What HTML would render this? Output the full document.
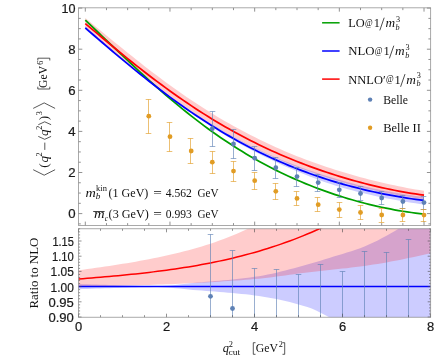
<!DOCTYPE html>
<html><head><meta charset="utf-8"><title>plot</title>
<style>html,body{margin:0;padding:0;background:#fff;}svg{display:block;will-change:transform;}</style></head>
<body>
<svg width="435" height="359" viewBox="0 0 435 359">
<rect width="435" height="359" fill="#fff"/>
<defs><clipPath id="ct"><rect x="78.5" y="7.85" width="352.2" height="217.55"/></clipPath><clipPath id="cb"><rect x="78.5" y="228.8" width="352.2" height="88.39999999999998"/></clipPath></defs>
<g clip-path="url(#ct)">
<path d="M85.30,26.36 L89.53,30.14 L93.77,33.90 L98.00,37.65 L102.24,41.39 L106.47,45.10 L110.70,48.80 L114.94,52.46 L119.17,56.10 L123.41,59.72 L127.64,63.30 L131.87,66.86 L136.11,70.38 L140.34,73.87 L144.58,77.32 L148.81,80.72 L153.04,84.07 L157.28,87.37 L161.51,90.61 L165.75,93.76 L169.98,96.81 L174.21,99.77 L178.45,102.66 L182.68,105.50 L186.92,108.31 L191.15,111.09 L195.38,113.85 L199.62,116.57 L203.85,119.26 L208.09,121.90 L212.32,124.50 L216.55,127.05 L220.79,129.56 L225.02,132.02 L229.26,134.43 L233.49,136.79 L237.72,139.09 L241.96,141.35 L246.19,143.55 L250.43,145.70 L254.66,147.80 L258.89,149.84 L263.13,151.81 L267.36,153.73 L271.60,155.60 L275.83,157.41 L280.06,159.18 L284.30,160.90 L288.53,162.58 L292.77,164.22 L297.00,165.82 L301.23,167.39 L305.47,168.92 L309.70,170.41 L313.94,171.86 L318.17,173.27 L322.40,174.64 L326.64,175.98 L330.87,177.29 L335.11,178.57 L339.34,179.82 L343.57,181.03 L347.81,182.20 L352.04,183.34 L356.28,184.44 L360.51,185.49 L364.74,186.51 L368.98,187.48 L373.21,188.41 L377.45,189.31 L381.68,190.17 L385.91,191.00 L390.15,191.80 L394.38,192.58 L398.62,193.32 L402.85,194.03 L407.08,194.71 L411.32,195.35 L415.55,195.96 L419.79,196.54 L424.02,197.09 L424.02,204.43 L419.79,203.88 L415.55,203.29 L411.32,202.67 L407.08,202.02 L402.85,201.34 L398.62,200.62 L394.38,199.86 L390.15,199.07 L385.91,198.24 L381.68,197.38 L377.45,196.48 L373.21,195.54 L368.98,194.56 L364.74,193.55 L360.51,192.50 L356.28,191.41 L352.04,190.29 L347.81,189.14 L343.57,187.95 L339.34,186.72 L335.11,185.43 L330.87,184.09 L326.64,182.69 L322.40,181.20 L318.17,179.63 L313.94,178.01 L309.70,176.38 L305.47,174.74 L301.23,173.07 L297.00,171.36 L292.77,169.59 L288.53,167.78 L284.30,165.93 L280.06,164.03 L275.83,162.08 L271.60,160.09 L267.36,158.06 L263.13,155.98 L258.89,153.85 L254.66,151.69 L250.43,149.47 L246.19,147.21 L241.96,144.90 L237.72,142.54 L233.49,140.13 L229.26,137.67 L225.02,135.16 L220.79,132.60 L216.55,129.99 L212.32,127.32 L208.09,124.59 L203.85,121.82 L199.62,118.98 L195.38,116.08 L191.15,113.13 L186.92,110.09 L182.68,106.99 L178.45,103.84 L174.21,100.64 L169.98,97.42 L165.75,94.19 L161.51,90.98 L157.28,87.76 L153.04,84.52 L148.81,81.26 L144.58,77.96 L140.34,74.65 L136.11,71.30 L131.87,67.93 L127.64,64.53 L123.41,61.10 L119.17,57.64 L114.94,54.16 L110.70,50.67 L106.47,47.17 L102.24,43.66 L98.00,40.13 L93.77,36.61 L89.53,33.08 L85.30,29.56Z" fill="#0000ff" fill-opacity="0.2"/>
<path d="M85.30,18.03 L89.53,21.50 L93.77,24.98 L98.00,28.47 L102.24,31.97 L106.47,35.46 L110.70,38.94 L114.94,42.41 L119.17,45.87 L123.41,49.30 L127.64,52.72 L131.87,56.11 L136.11,59.48 L140.34,62.82 L144.58,66.13 L148.81,69.40 L153.04,72.64 L157.28,75.85 L161.51,79.01 L165.75,82.14 L169.98,85.22 L174.21,88.27 L178.45,91.27 L182.68,94.23 L186.92,97.15 L191.15,100.01 L195.38,102.83 L199.62,105.60 L203.85,108.32 L208.09,110.99 L212.32,113.62 L216.55,116.17 L220.79,118.68 L225.02,121.15 L229.26,123.56 L233.49,125.93 L237.72,128.25 L241.96,130.53 L246.19,132.76 L250.43,134.94 L254.66,137.08 L258.89,139.17 L263.13,141.23 L267.36,143.25 L271.60,145.23 L275.83,147.17 L280.06,149.06 L284.30,150.91 L288.53,152.72 L292.77,154.48 L297.00,156.19 L301.23,157.86 L305.47,159.49 L309.70,161.07 L313.94,162.61 L318.17,164.10 L322.40,165.56 L326.64,166.98 L330.87,168.37 L335.11,169.72 L339.34,171.03 L343.57,172.32 L347.81,173.57 L352.04,174.79 L356.28,175.98 L360.51,177.15 L364.74,178.28 L368.98,179.38 L373.21,180.45 L377.45,181.50 L381.68,182.51 L385.91,183.49 L390.15,184.43 L394.38,185.35 L398.62,186.23 L402.85,187.08 L407.08,187.89 L411.32,188.67 L415.55,189.40 L419.79,190.10 L424.02,190.76 L424.02,199.05 L419.79,198.49 L415.55,197.90 L411.32,197.27 L407.08,196.61 L402.85,195.92 L398.62,195.19 L394.38,194.42 L390.15,193.63 L385.91,192.80 L381.68,191.93 L377.45,191.04 L373.21,190.10 L368.98,189.13 L364.74,188.13 L360.51,187.08 L356.28,186.00 L352.04,184.88 L347.81,183.73 L343.57,182.53 L339.34,181.29 L335.11,180.02 L330.87,178.70 L326.64,177.35 L322.40,175.95 L318.17,174.52 L313.94,173.05 L309.70,171.55 L305.47,170.00 L301.23,168.42 L297.00,166.80 L292.77,165.15 L288.53,163.45 L284.30,161.72 L280.06,159.94 L275.83,158.12 L271.60,156.25 L267.36,154.33 L263.13,152.36 L258.89,150.34 L254.66,148.26 L250.43,146.13 L246.19,143.95 L241.96,141.72 L237.72,139.44 L233.49,137.11 L229.26,134.73 L225.02,132.30 L220.79,129.82 L216.55,127.28 L212.32,124.70 L208.09,122.07 L203.85,119.39 L199.62,116.66 L195.38,113.89 L191.15,111.06 L186.92,108.19 L182.68,105.28 L178.45,102.31 L174.21,99.30 L169.98,96.25 L165.75,93.14 L161.51,89.99 L157.28,86.80 L153.04,83.57 L148.81,80.30 L144.58,76.99 L140.34,73.64 L136.11,70.26 L131.87,66.84 L127.64,63.40 L123.41,59.92 L119.17,56.42 L114.94,52.90 L110.70,49.35 L106.47,45.79 L102.24,42.21 L98.00,38.62 L93.77,35.01 L89.53,31.40 L85.30,27.78Z" fill="#ff0000" fill-opacity="0.2"/>
<path d="M85.30,20.20 L89.53,24.19 L93.77,28.21 L98.00,32.25 L102.24,36.29 L106.47,40.34 L110.70,44.39 L114.94,48.43 L119.17,52.46 L123.41,56.48 L127.64,60.47 L131.87,64.45 L136.11,68.39 L140.34,72.31 L144.58,76.19 L148.81,80.03 L153.04,83.83 L157.28,87.59 L161.51,91.31 L165.75,94.98 L169.98,98.60 L174.21,102.17 L178.45,105.68 L182.68,109.14 L186.92,112.55 L191.15,115.89 L195.38,119.18 L199.62,122.41 L203.85,125.58 L208.09,128.69 L212.32,131.74 L216.55,134.73 L220.79,137.66 L225.02,140.52 L229.26,143.32 L233.49,146.06 L237.72,148.74 L241.96,151.36 L246.19,153.91 L250.43,156.41 L254.66,158.84 L258.89,161.22 L263.13,163.53 L267.36,165.79 L271.60,167.99 L275.83,170.13 L280.06,172.22 L284.30,174.25 L288.53,176.22 L292.77,178.14 L297.00,180.01 L301.23,181.82 L305.47,183.59 L309.70,185.30 L313.94,186.96 L318.17,188.57 L322.40,190.14 L326.64,191.65 L330.87,193.12 L335.11,194.55 L339.34,195.92 L343.57,197.26 L347.81,198.54 L352.04,199.78 L356.28,200.98 L360.51,202.14 L364.74,203.25 L368.98,204.31 L373.21,205.33 L377.45,206.31 L381.68,207.25 L385.91,208.14 L390.15,208.98 L394.38,209.78 L398.62,210.53 L402.85,211.24 L407.08,211.90 L411.32,212.50 L415.55,213.06 L419.79,213.56 L424.02,214.01" fill="none" stroke="#00a000" stroke-width="1.75"/>
<path d="M85.30,27.96 L89.53,31.61 L93.77,35.26 L98.00,38.89 L102.24,42.52 L106.47,46.14 L110.70,49.73 L114.94,53.31 L119.17,56.87 L123.41,60.41 L127.64,63.91 L131.87,67.39 L136.11,70.84 L140.34,74.26 L144.58,77.64 L148.81,80.99 L153.04,84.30 L157.28,87.56 L161.51,90.79 L165.75,93.98 L169.98,97.12 L174.21,100.22 L178.45,103.27 L182.68,106.28 L186.92,109.24 L191.15,112.15 L195.38,115.02 L199.62,117.83 L203.85,120.60 L208.09,123.31 L212.32,125.98 L216.55,128.59 L220.79,131.16 L225.02,133.67 L229.26,136.13 L233.49,138.54 L237.72,140.90 L241.96,143.21 L246.19,145.47 L250.43,147.68 L254.66,149.84 L258.89,151.94 L263.13,154.00 L267.36,156.01 L271.60,157.97 L275.83,159.88 L280.06,161.75 L284.30,163.56 L288.53,165.33 L292.77,167.05 L297.00,168.73 L301.23,170.36 L305.47,171.94 L309.70,173.49 L313.94,174.99 L318.17,176.44 L322.40,177.85 L326.64,179.23 L330.87,180.56 L335.11,181.85 L339.34,183.10 L343.57,184.31 L347.81,185.48 L352.04,186.61 L356.28,187.71 L360.51,188.77 L364.74,189.79 L368.98,190.78 L373.21,191.73 L377.45,192.65 L381.68,193.53 L385.91,194.38 L390.15,195.19 L394.38,195.97 L398.62,196.72 L402.85,197.43 L407.08,198.11 L411.32,198.76 L415.55,199.37 L419.79,199.95 L424.02,200.49" fill="none" stroke="#0000ff" stroke-width="1.75"/>
<path d="M85.30,23.55 L89.53,27.10 L93.77,30.65 L98.00,34.19 L102.24,37.73 L106.47,41.25 L110.70,44.76 L114.94,48.24 L119.17,51.71 L123.41,55.16 L127.64,58.58 L131.87,61.97 L136.11,65.34 L140.34,68.67 L144.58,71.97 L148.81,75.23 L153.04,78.45 L157.28,81.64 L161.51,84.79 L165.75,87.90 L169.98,90.96 L174.21,93.98 L178.45,96.96 L182.68,99.90 L186.92,102.78 L191.15,105.63 L195.38,108.42 L199.62,111.17 L203.85,113.87 L208.09,116.53 L212.32,119.13 L216.55,121.69 L220.79,124.20 L225.02,126.67 L229.26,129.08 L233.49,131.45 L237.72,133.77 L241.96,136.04 L246.19,138.27 L250.43,140.45 L254.66,142.58 L258.89,144.67 L263.13,146.71 L267.36,148.71 L271.60,150.67 L275.83,152.57 L280.06,154.44 L284.30,156.26 L288.53,158.05 L292.77,159.79 L297.00,161.48 L301.23,163.14 L305.47,164.76 L309.70,166.34 L313.94,167.88 L318.17,169.38 L322.40,170.84 L326.64,172.27 L330.87,173.66 L335.11,175.01 L339.34,176.33 L343.57,177.61 L347.81,178.85 L352.04,180.06 L356.28,181.24 L360.51,182.38 L364.74,183.48 L368.98,184.55 L373.21,185.59 L377.45,186.59 L381.68,187.55 L385.91,188.48 L390.15,189.38 L394.38,190.24 L398.62,191.06 L402.85,191.84 L407.08,192.59 L411.32,193.30 L415.55,193.97 L419.79,194.60 L424.02,195.19" fill="none" stroke="#ff0000" stroke-width="1.75"/>
<path d="M212.5,111.5V146.5M209.7,111.5h5.6M209.7,146.5h5.6" stroke="#5e81b5" stroke-opacity="0.8" stroke-width="0.8" fill="none"/>
<circle cx="212.3" cy="128.7" r="2.4" fill="#5e81b5"/>
<path d="M233.5,129.5V158.5M230.7,129.5h5.6M230.7,158.5h5.6" stroke="#5e81b5" stroke-opacity="0.8" stroke-width="0.8" fill="none"/>
<circle cx="233.5" cy="144.0" r="2.4" fill="#5e81b5"/>
<path d="M254.5,146.5V170.5M251.7,146.5h5.6M251.7,170.5h5.6" stroke="#5e81b5" stroke-opacity="0.8" stroke-width="0.8" fill="none"/>
<circle cx="254.7" cy="158.2" r="2.4" fill="#5e81b5"/>
<path d="M275.5,157.5V178.5M272.7,157.5h5.6M272.7,178.5h5.6" stroke="#5e81b5" stroke-opacity="0.8" stroke-width="0.8" fill="none"/>
<circle cx="275.8" cy="167.7" r="2.4" fill="#5e81b5"/>
<path d="M296.5,167.5V186.5M293.7,167.5h5.6M293.7,186.5h5.6" stroke="#5e81b5" stroke-opacity="0.8" stroke-width="0.8" fill="none"/>
<circle cx="297.0" cy="176.6" r="2.4" fill="#5e81b5"/>
<path d="M317.5,174.5V191.5M314.7,174.5h5.6M314.7,191.5h5.6" stroke="#5e81b5" stroke-opacity="0.8" stroke-width="0.8" fill="none"/>
<circle cx="318.2" cy="182.6" r="2.4" fill="#5e81b5"/>
<path d="M339.5,182.5V197.5M336.7,182.5h5.6M336.7,197.5h5.6" stroke="#5e81b5" stroke-opacity="0.8" stroke-width="0.8" fill="none"/>
<circle cx="339.3" cy="189.8" r="2.4" fill="#5e81b5"/>
<path d="M360.5,186.5V200.5M357.7,186.5h5.6M357.7,200.5h5.6" stroke="#5e81b5" stroke-opacity="0.8" stroke-width="0.8" fill="none"/>
<circle cx="360.5" cy="193.5" r="2.4" fill="#5e81b5"/>
<path d="M381.5,191.5V204.5M378.7,191.5h5.6M378.7,204.5h5.6" stroke="#5e81b5" stroke-opacity="0.8" stroke-width="0.8" fill="none"/>
<circle cx="381.7" cy="198.0" r="2.4" fill="#5e81b5"/>
<path d="M402.5,195.5V208.5M399.7,195.5h5.6M399.7,208.5h5.6" stroke="#5e81b5" stroke-opacity="0.8" stroke-width="0.8" fill="none"/>
<circle cx="402.9" cy="201.5" r="2.4" fill="#5e81b5"/>
<path d="M423.5,196.5V209.5M420.7,196.5h5.6M420.7,209.5h5.6" stroke="#5e81b5" stroke-opacity="0.8" stroke-width="0.8" fill="none"/>
<circle cx="424.0" cy="202.6" r="2.4" fill="#5e81b5"/>
<path d="M148.5,99.5V133.5M145.7,99.5h5.6M145.7,133.5h5.6" stroke="#e19c24" stroke-opacity="0.8" stroke-width="0.8" fill="none"/>
<circle cx="148.8" cy="116.2" r="2.4" fill="#e19c24"/>
<path d="M169.5,122.5V151.5M166.7,122.5h5.6M166.7,151.5h5.6" stroke="#e19c24" stroke-opacity="0.8" stroke-width="0.8" fill="none"/>
<circle cx="170.0" cy="136.7" r="2.4" fill="#e19c24"/>
<path d="M190.5,138.5V163.5M187.7,138.5h5.6M187.7,163.5h5.6" stroke="#e19c24" stroke-opacity="0.8" stroke-width="0.8" fill="none"/>
<circle cx="191.2" cy="151.0" r="2.4" fill="#e19c24"/>
<path d="M212.5,151.5V173.5M209.7,151.5h5.6M209.7,173.5h5.6" stroke="#e19c24" stroke-opacity="0.8" stroke-width="0.8" fill="none"/>
<circle cx="212.3" cy="162.2" r="2.4" fill="#e19c24"/>
<path d="M233.5,161.5V181.5M230.7,161.5h5.6M230.7,181.5h5.6" stroke="#e19c24" stroke-opacity="0.8" stroke-width="0.8" fill="none"/>
<circle cx="233.5" cy="171.1" r="2.4" fill="#e19c24"/>
<path d="M254.5,172.5V189.5M251.7,172.5h5.6M251.7,189.5h5.6" stroke="#e19c24" stroke-opacity="0.8" stroke-width="0.8" fill="none"/>
<circle cx="254.7" cy="180.7" r="2.4" fill="#e19c24"/>
<path d="M275.5,183.5V199.5M272.7,183.5h5.6M272.7,199.5h5.6" stroke="#e19c24" stroke-opacity="0.8" stroke-width="0.8" fill="none"/>
<circle cx="275.8" cy="191.3" r="2.4" fill="#e19c24"/>
<path d="M296.5,191.5V205.5M293.7,191.5h5.6M293.7,205.5h5.6" stroke="#e19c24" stroke-opacity="0.8" stroke-width="0.8" fill="none"/>
<circle cx="297.0" cy="198.4" r="2.4" fill="#e19c24"/>
<path d="M317.5,197.5V211.5M314.7,197.5h5.6M314.7,211.5h5.6" stroke="#e19c24" stroke-opacity="0.8" stroke-width="0.8" fill="none"/>
<circle cx="318.2" cy="204.7" r="2.4" fill="#e19c24"/>
<path d="M339.5,202.5V217.5M336.7,202.5h5.6M336.7,217.5h5.6" stroke="#e19c24" stroke-opacity="0.8" stroke-width="0.8" fill="none"/>
<circle cx="339.3" cy="209.6" r="2.4" fill="#e19c24"/>
<path d="M360.5,205.5V219.5M357.7,205.5h5.6M357.7,219.5h5.6" stroke="#e19c24" stroke-opacity="0.8" stroke-width="0.8" fill="none"/>
<circle cx="360.5" cy="212.5" r="2.4" fill="#e19c24"/>
<path d="M381.5,208.5V222.5M378.7,208.5h5.6M378.7,222.5h5.6" stroke="#e19c24" stroke-opacity="0.8" stroke-width="0.8" fill="none"/>
<circle cx="381.7" cy="215.0" r="2.4" fill="#e19c24"/>
<path d="M402.5,208.5V221.5M399.7,208.5h5.6M399.7,221.5h5.6" stroke="#e19c24" stroke-opacity="0.8" stroke-width="0.8" fill="none"/>
<circle cx="402.9" cy="215.0" r="2.4" fill="#e19c24"/>
<path d="M423.5,209.5V221.5M420.7,209.5h5.6M420.7,221.5h5.6" stroke="#e19c24" stroke-opacity="0.8" stroke-width="0.8" fill="none"/>
<circle cx="424.0" cy="215.1" r="2.4" fill="#e19c24"/>
</g>
<g clip-path="url(#cb)">
<path d="M78.50,283.99 L82.90,284.14 L87.30,284.29 L91.70,284.44 L96.10,284.58 L100.50,284.72 L104.90,284.86 L109.30,284.99 L113.70,285.11 L118.10,285.23 L122.50,285.36 L126.90,285.49 L131.30,285.62 L135.70,285.76 L140.10,285.88 L144.50,285.99 L148.90,286.07 L153.30,286.12 L157.70,286.14 L162.10,286.05 L166.50,285.78 L170.90,285.39 L175.30,284.91 L179.70,284.40 L184.10,283.88 L188.50,283.40 L192.90,282.99 L197.30,282.60 L201.70,282.21 L206.10,281.84 L210.50,281.47 L214.90,281.09 L219.30,280.71 L223.70,280.32 L228.10,279.91 L232.50,279.48 L236.90,279.02 L241.30,278.54 L245.70,278.02 L250.10,277.47 L254.50,276.87 L258.90,276.20 L263.30,275.43 L267.70,274.57 L272.10,273.64 L276.50,272.63 L280.90,271.57 L285.30,270.46 L289.70,269.31 L294.10,268.13 L298.50,266.93 L302.90,265.73 L307.30,264.52 L311.70,263.31 L316.10,262.02 L320.50,260.67 L324.90,259.28 L329.30,257.89 L333.70,256.54 L338.10,255.22 L342.50,253.90 L346.90,252.57 L351.30,251.18 L355.70,249.72 L360.10,248.16 L364.50,246.47 L368.90,244.61 L373.30,242.58 L377.70,240.39 L382.10,238.08 L386.50,235.66 L390.90,233.17 L395.30,230.63 L399.70,228.06 L404.10,225.41 L408.50,222.66 L412.90,219.81 L417.30,216.87 L421.70,213.85 L426.10,210.74 L430.50,207.56 L430.50,377.80 L426.10,374.05 L421.70,370.41 L417.30,366.86 L412.90,363.41 L408.50,360.06 L404.10,356.82 L399.70,353.67 L395.30,350.63 L390.90,347.68 L386.50,344.84 L382.10,342.11 L377.70,339.47 L373.30,336.94 L368.90,334.52 L364.50,332.20 L360.10,330.04 L355.70,328.05 L351.30,326.19 L346.90,324.42 L342.50,322.68 L338.10,320.93 L333.70,319.12 L329.30,317.20 L324.90,315.05 L320.50,312.72 L316.10,310.45 L311.70,308.51 L307.30,307.03 L302.90,305.68 L298.50,304.40 L294.10,303.19 L289.70,302.06 L285.30,300.99 L280.90,299.99 L276.50,299.07 L272.10,298.21 L267.70,297.41 L263.30,296.68 L258.90,296.02 L254.50,295.42 L250.10,294.87 L245.70,294.36 L241.30,293.89 L236.90,293.45 L232.50,293.04 L228.10,292.65 L223.70,292.28 L219.30,291.93 L214.90,291.58 L210.50,291.25 L206.10,290.91 L201.70,290.58 L197.30,290.23 L192.90,289.88 L188.50,289.51 L184.10,289.08 L179.70,288.62 L175.30,288.16 L170.90,287.73 L166.50,287.38 L162.10,287.14 L157.70,287.06 L153.30,287.08 L148.90,287.13 L144.50,287.21 L140.10,287.32 L135.70,287.44 L131.30,287.58 L126.90,287.71 L122.50,287.84 L118.10,287.97 L113.70,288.09 L109.30,288.21 L104.90,288.34 L100.50,288.48 L96.10,288.62 L91.70,288.76 L87.30,288.91 L82.90,289.06 L78.50,289.21Z" fill="#0000ff" fill-opacity="0.2"/>
<path d="M78.50,270.33 L82.90,269.71 L87.30,269.09 L91.70,268.47 L96.10,267.85 L100.50,267.21 L104.90,266.57 L109.30,265.92 L113.70,265.25 L118.10,264.57 L122.50,263.87 L126.90,263.15 L131.30,262.41 L135.70,261.65 L140.10,260.86 L144.50,260.05 L148.90,259.21 L153.30,258.34 L157.70,257.44 L162.10,256.51 L166.50,255.55 L170.90,254.56 L175.30,253.53 L179.70,252.47 L184.10,251.37 L188.50,250.22 L192.90,249.02 L197.30,247.77 L201.70,246.47 L206.10,245.11 L210.50,243.70 L214.90,242.18 L219.30,240.60 L223.70,238.97 L228.10,237.27 L232.50,235.51 L236.90,233.69 L241.30,231.81 L245.70,229.86 L250.10,227.85 L254.50,225.76 L258.90,223.63 L263.30,221.46 L267.70,219.25 L272.10,216.99 L276.50,214.66 L280.90,212.25 L285.30,209.76 L289.70,207.17 L294.10,204.49 L298.50,201.68 L302.90,198.76 L307.30,195.69 L311.70,192.49 L316.10,189.15 L320.50,185.67 L324.90,182.05 L329.30,178.32 L333.70,174.45 L338.10,170.47 L342.50,166.37 L346.90,162.16 L351.30,157.83 L355.70,153.41 L360.10,148.88 L364.50,144.26 L368.90,139.54 L373.30,134.71 L377.70,129.77 L382.10,124.72 L386.50,119.56 L390.90,114.27 L395.30,108.87 L399.70,103.35 L404.10,97.69 L408.50,91.91 L412.90,85.99 L417.30,79.94 L421.70,73.75 L426.10,67.42 L430.50,60.94 L430.50,253.16 L426.10,254.19 L421.70,255.21 L417.30,256.19 L412.90,257.16 L408.50,258.10 L404.10,259.01 L399.70,259.90 L395.30,260.76 L390.90,261.59 L386.50,262.39 L382.10,263.17 L377.70,263.91 L373.30,264.61 L368.90,265.29 L364.50,265.93 L360.10,266.53 L355.70,267.09 L351.30,267.62 L346.90,268.13 L342.50,268.61 L338.10,269.07 L333.70,269.53 L329.30,269.99 L324.90,270.44 L320.50,270.91 L316.10,271.39 L311.70,271.89 L307.30,272.42 L302.90,272.98 L298.50,273.57 L294.10,274.17 L289.70,274.78 L285.30,275.40 L280.90,276.01 L276.50,276.60 L272.10,277.17 L267.70,277.72 L263.30,278.22 L258.90,278.68 L254.50,279.09 L250.10,279.46 L245.70,279.82 L241.30,280.15 L236.90,280.48 L232.50,280.79 L228.10,281.09 L223.70,281.37 L219.30,281.65 L214.90,281.91 L210.50,282.17 L206.10,282.41 L201.70,282.65 L197.30,282.88 L192.90,283.11 L188.50,283.33 L184.10,283.54 L179.70,283.75 L175.30,283.95 L170.90,284.14 L166.50,284.31 L162.10,284.48 L157.70,284.62 L153.30,284.76 L148.90,284.89 L144.50,285.02 L140.10,285.14 L135.70,285.25 L131.30,285.35 L126.90,285.46 L122.50,285.55 L118.10,285.64 L113.70,285.73 L109.30,285.82 L104.90,285.90 L100.50,285.97 L96.10,286.05 L91.70,286.12 L87.30,286.18 L82.90,286.24 L78.50,286.30Z" fill="#ff0000" fill-opacity="0.2"/>
<path d="M78.5,286.60H430.7" stroke="#0000ff" stroke-width="1.5"/>
<path d="M78.50,279.07 L82.90,278.71 L87.30,278.35 L91.70,277.98 L96.10,277.60 L100.50,277.23 L104.90,276.84 L109.30,276.45 L113.70,276.05 L118.10,275.64 L122.50,275.22 L126.90,274.78 L131.30,274.34 L135.70,273.88 L140.10,273.40 L144.50,272.91 L148.90,272.40 L153.30,271.88 L157.70,271.33 L162.10,270.77 L166.50,270.18 L170.90,269.58 L175.30,268.94 L179.70,268.29 L184.10,267.61 L188.50,266.90 L192.90,266.17 L197.30,265.40 L201.70,264.61 L206.10,263.79 L210.50,262.93 L214.90,262.05 L219.30,261.13 L223.70,260.17 L228.10,259.18 L232.50,258.15 L236.90,257.09 L241.30,255.98 L245.70,254.84 L250.10,253.65 L254.50,252.43 L258.90,251.16 L263.30,249.84 L267.70,248.48 L272.10,247.08 L276.50,245.63 L280.90,244.13 L285.30,242.58 L289.70,240.98 L294.10,239.33 L298.50,237.62 L302.90,235.87 L307.30,234.06 L311.70,232.19 L316.10,230.27 L320.50,228.29 L324.90,226.25 L329.30,224.15 L333.70,221.99 L338.10,219.77 L342.50,217.49 L346.90,215.14 L351.30,212.73 L355.70,210.25 L360.10,207.71 L364.50,205.09 L368.90,202.41 L373.30,199.66 L377.70,196.84 L382.10,193.94 L386.50,190.98 L390.90,187.93 L395.30,184.82 L399.70,181.62 L404.10,178.35 L408.50,175.00 L412.90,171.58 L417.30,168.07 L421.70,164.48 L426.10,160.81 L430.50,157.05" fill="none" stroke="#ff0000" stroke-width="1.5"/>
<path d="M210.5,234.5V322.2M207.7,234.5h5.6" stroke="#5e81b5" stroke-opacity="0.8" stroke-width="0.8" fill="none"/>
<circle cx="210.5" cy="296.3" r="2.4" fill="#5e81b5"/>
<path d="M232.5,250.5V322.2M229.7,250.5h5.6" stroke="#5e81b5" stroke-opacity="0.8" stroke-width="0.8" fill="none"/>
<circle cx="232.5" cy="308.5" r="2.4" fill="#5e81b5"/>
<path d="M254.5,268.5V322.2M251.7,268.5h5.6" stroke="#5e81b5" stroke-opacity="0.8" stroke-width="0.8" fill="none"/>
<path d="M276.5,269.5V322.2M273.7,269.5h5.6" stroke="#5e81b5" stroke-opacity="0.8" stroke-width="0.8" fill="none"/>
<path d="M298.5,274.5V322.2M295.7,274.5h5.6" stroke="#5e81b5" stroke-opacity="0.8" stroke-width="0.8" fill="none"/>
<path d="M320.5,264.5V322.2M317.7,264.5h5.6" stroke="#5e81b5" stroke-opacity="0.8" stroke-width="0.8" fill="none"/>
<path d="M342.5,271.5V322.2M339.7,271.5h5.6" stroke="#5e81b5" stroke-opacity="0.8" stroke-width="0.8" fill="none"/>
<path d="M364.5,251.5V322.2M361.7,251.5h5.6" stroke="#5e81b5" stroke-opacity="0.8" stroke-width="0.8" fill="none"/>
<path d="M386.5,252.5V322.2M383.7,252.5h5.6" stroke="#5e81b5" stroke-opacity="0.8" stroke-width="0.8" fill="none"/>
<path d="M408.5,239.5V322.2M405.7,239.5h5.6" stroke="#5e81b5" stroke-opacity="0.8" stroke-width="0.8" fill="none"/>
</g>
<path d="M85.30,225.4v-3.8M85.30,7.85v3.8M106.47,225.4v-2.3M106.47,7.85v2.3M127.64,225.4v-2.3M127.64,7.85v2.3M148.81,225.4v-2.3M148.81,7.85v2.3M169.98,225.4v-3.8M169.98,7.85v3.8M191.15,225.4v-2.3M191.15,7.85v2.3M212.32,225.4v-2.3M212.32,7.85v2.3M233.49,225.4v-2.3M233.49,7.85v2.3M254.66,225.4v-3.8M254.66,7.85v3.8M275.83,225.4v-2.3M275.83,7.85v2.3M297.00,225.4v-2.3M297.00,7.85v2.3M318.17,225.4v-2.3M318.17,7.85v2.3M339.34,225.4v-3.8M339.34,7.85v3.8M360.51,225.4v-2.3M360.51,7.85v2.3M381.68,225.4v-2.3M381.68,7.85v2.3M402.85,225.4v-2.3M402.85,7.85v2.3M424.02,225.4v-3.8M424.02,7.85v3.8M78.5,223.88h2.3M430.7,223.88h-2.3M78.5,213.60h3.8M430.7,213.60h-3.8M78.5,203.32h2.3M430.7,203.32h-2.3M78.5,193.05h2.3M430.7,193.05h-2.3M78.5,182.77h2.3M430.7,182.77h-2.3M78.5,172.50h3.8M430.7,172.50h-3.8M78.5,162.22h2.3M430.7,162.22h-2.3M78.5,151.95h2.3M430.7,151.95h-2.3M78.5,141.68h2.3M430.7,141.68h-2.3M78.5,131.40h3.8M430.7,131.40h-3.8M78.5,121.12h2.3M430.7,121.12h-2.3M78.5,110.85h2.3M430.7,110.85h-2.3M78.5,100.57h2.3M430.7,100.57h-2.3M78.5,90.30h3.8M430.7,90.30h-3.8M78.5,80.02h2.3M430.7,80.02h-2.3M78.5,69.75h2.3M430.7,69.75h-2.3M78.5,59.47h2.3M430.7,59.47h-2.3M78.5,49.20h3.8M430.7,49.20h-3.8M78.5,38.92h2.3M430.7,38.92h-2.3M78.5,28.65h2.3M430.7,28.65h-2.3M78.5,18.38h2.3M430.7,18.38h-2.3M78.5,8.10h3.8M430.7,8.10h-3.8" stroke="#484848" stroke-width="0.6" fill="none"/>
<rect x="78.5" y="7.85" width="352.2" height="217.55" fill="none" stroke="#858585" stroke-width="0.7"/>
<path d="M78.50,317.2v-3.5M78.50,228.8v3.5M100.50,317.2v-2.0M100.50,228.8v2.0M122.50,317.2v-2.0M122.50,228.8v2.0M144.50,317.2v-2.0M144.50,228.8v2.0M166.50,317.2v-3.5M166.50,228.8v3.5M188.50,317.2v-2.0M188.50,228.8v2.0M210.50,317.2v-2.0M210.50,228.8v2.0M232.50,317.2v-2.0M232.50,228.8v2.0M254.50,317.2v-3.5M254.50,228.8v3.5M276.50,317.2v-2.0M276.50,228.8v2.0M298.50,317.2v-2.0M298.50,228.8v2.0M320.50,317.2v-2.0M320.50,228.8v2.0M342.50,317.2v-3.5M342.50,228.8v3.5M364.50,317.2v-2.0M364.50,228.8v2.0M386.50,317.2v-2.0M386.50,228.8v2.0M408.50,317.2v-2.0M408.50,228.8v2.0M430.50,317.2v-3.5M430.50,228.8v3.5M78.5,317.00h3.0M430.7,317.00h-3.0M78.5,313.96h1.6M430.7,313.96h-1.6M78.5,310.92h1.6M430.7,310.92h-1.6M78.5,307.88h1.6M430.7,307.88h-1.6M78.5,304.84h1.6M430.7,304.84h-1.6M78.5,301.80h3.0M430.7,301.80h-3.0M78.5,298.76h1.6M430.7,298.76h-1.6M78.5,295.72h1.6M430.7,295.72h-1.6M78.5,292.68h1.6M430.7,292.68h-1.6M78.5,289.64h1.6M430.7,289.64h-1.6M78.5,286.60h3.0M430.7,286.60h-3.0M78.5,283.56h1.6M430.7,283.56h-1.6M78.5,280.52h1.6M430.7,280.52h-1.6M78.5,277.48h1.6M430.7,277.48h-1.6M78.5,274.44h1.6M430.7,274.44h-1.6M78.5,271.40h3.0M430.7,271.40h-3.0M78.5,268.36h1.6M430.7,268.36h-1.6M78.5,265.32h1.6M430.7,265.32h-1.6M78.5,262.28h1.6M430.7,262.28h-1.6M78.5,259.24h1.6M430.7,259.24h-1.6M78.5,256.20h3.0M430.7,256.20h-3.0M78.5,253.16h1.6M430.7,253.16h-1.6M78.5,250.12h1.6M430.7,250.12h-1.6M78.5,247.08h1.6M430.7,247.08h-1.6M78.5,244.04h1.6M430.7,244.04h-1.6M78.5,241.00h3.0M430.7,241.00h-3.0M78.5,237.96h1.6M430.7,237.96h-1.6M78.5,234.92h1.6M430.7,234.92h-1.6M78.5,231.88h1.6M430.7,231.88h-1.6M78.5,228.84h1.6M430.7,228.84h-1.6" stroke="#484848" stroke-width="0.6" fill="none"/>
<rect x="78.5" y="228.8" width="352.2" height="88.39999999999998" fill="none" stroke="#858585" stroke-width="0.7"/>
<g font-family="'Liberation Sans', sans-serif" font-size="12" fill="#1a1a1a" stroke="#1a1a1a" stroke-width="0.2">
<text transform="translate(75.5,218.0) scale(1.1,1)" text-anchor="end">0</text>
<text transform="translate(75.5,176.9) scale(1.1,1)" text-anchor="end">2</text>
<text transform="translate(75.5,135.8) scale(1.1,1)" text-anchor="end">4</text>
<text transform="translate(75.5,94.7) scale(1.1,1)" text-anchor="end">6</text>
<text transform="translate(75.5,53.6) scale(1.1,1)" text-anchor="end">8</text>
<text transform="translate(75.5,12.5) scale(1.05,1)" text-anchor="end">10</text>
<text x="48.4" y="321.9" textLength="25.4" lengthAdjust="spacingAndGlyphs">0.90</text>
<text x="48.4" y="306.7" textLength="25.4" lengthAdjust="spacingAndGlyphs">0.95</text>
<text x="50.6" y="291.5" textLength="23.2" lengthAdjust="spacingAndGlyphs">1.00</text>
<text x="50.6" y="276.3" textLength="23.2" lengthAdjust="spacingAndGlyphs">1.05</text>
<text x="52.0" y="261.1" textLength="21.8" lengthAdjust="spacingAndGlyphs">1.10</text>
<text x="52.4" y="245.9" textLength="21.4" lengthAdjust="spacingAndGlyphs">1.15</text>
<text transform="translate(78.5,331.3) scale(1.08,1)" text-anchor="middle">0</text>
<text transform="translate(166.5,331.3) scale(1.08,1)" text-anchor="middle">2</text>
<text transform="translate(254.5,331.3) scale(1.08,1)" text-anchor="middle">4</text>
<text transform="translate(342.5,331.3) scale(1.08,1)" text-anchor="middle">6</text>
<text transform="translate(430.5,331.3) scale(1.08,1)" text-anchor="middle">8</text>
</g>
<g font-family="'Liberation Serif', serif" font-size="12.4" fill="#111">
<path d="M322.1,22.8H339.6" stroke="#00a000" stroke-width="1.5"/>
<path d="M322.1,51H339.6" stroke="#0000ff" stroke-width="1.5"/>
<path d="M322.1,79.1H339.6" stroke="#ff0000" stroke-width="1.5"/>
<text x="348.2" y="27.3" textLength="16.5" lengthAdjust="spacingAndGlyphs">LO</text>
<text x="365.09999999999997" y="25.900000000000002" textLength="7.7" lengthAdjust="spacingAndGlyphs" font-size="10.0">@</text>
<text x="373.79999999999995" y="27.3">1</text>
<path d="M379.8,30.4L384.2,17.7" stroke="#111" stroke-width="0.75" fill="none"/>
<text x="385.4" y="27.3" textLength="9.6" lengthAdjust="spacingAndGlyphs" font-style="italic">m</text>
<text x="396.0" y="21.5" font-size="8.2">3</text>
<text x="395.59999999999997" y="29.8" font-style="italic" font-size="8.2">b</text>
<text x="348.2" y="55.3" textLength="26.3" lengthAdjust="spacingAndGlyphs">NLO</text>
<text x="374.7" y="53.9" textLength="7.7" lengthAdjust="spacingAndGlyphs" font-size="10.0">@</text>
<text x="383.4" y="55.3">1</text>
<path d="M389.4,58.4L393.8,45.7" stroke="#111" stroke-width="0.75" fill="none"/>
<text x="395.0" y="55.3" textLength="9.6" lengthAdjust="spacingAndGlyphs" font-style="italic">m</text>
<text x="405.6" y="49.5" font-size="8.2">3</text>
<text x="405.2" y="57.8" font-style="italic" font-size="8.2">b</text>
<text x="348.2" y="83.7" textLength="37.5" lengthAdjust="spacingAndGlyphs">NNLO′</text>
<text x="385.9" y="82.3" textLength="7.7" lengthAdjust="spacingAndGlyphs" font-size="10.0">@</text>
<text x="394.59999999999997" y="83.7">1</text>
<path d="M400.6,86.8L405.0,74.1" stroke="#111" stroke-width="0.75" fill="none"/>
<text x="406.2" y="83.7" textLength="9.6" lengthAdjust="spacingAndGlyphs" font-style="italic">m</text>
<text x="416.8" y="77.9" font-size="8.2">3</text>
<text x="416.4" y="86.2" font-style="italic" font-size="8.2">b</text>
<circle cx="370.1" cy="99.6" r="2.2" fill="#5e81b5"/>
<text x="383.2" y="103.9" textLength="24.8" lengthAdjust="spacingAndGlyphs">Belle</text>
<circle cx="370.1" cy="127.7" r="2.2" fill="#e19c24"/>
<text x="383.2" y="131.9" textLength="37.6" lengthAdjust="spacingAndGlyphs">Belle II</text>
<text x="85.4" y="196.8" textLength="10.3" lengthAdjust="spacingAndGlyphs" font-style="italic">m</text>
<text x="96.1" y="191.3" textLength="10.8" lengthAdjust="spacingAndGlyphs" font-size="9.2">kin</text>
<text x="95.8" y="199.2" font-style="italic" font-size="9.2">b</text>
<text x="108.5" y="196.8" textLength="39.9" lengthAdjust="spacingAndGlyphs">(1 GeV)</text>
<text x="153.3" y="196.8" textLength="8.6" lengthAdjust="spacingAndGlyphs">=</text>
<text x="165.8" y="196.8" textLength="26.1" lengthAdjust="spacingAndGlyphs">4.562</text>
<text x="197.4" y="196.8" textLength="21.1" lengthAdjust="spacingAndGlyphs">GeV</text>
<text x="93.9" y="218.4" textLength="10.6" lengthAdjust="spacingAndGlyphs" font-style="italic">m</text>
<path d="M93.2,211.5H104.6" stroke="#111" stroke-width="0.8"/>
<text x="104.7" y="220.5" textLength="3.2" lengthAdjust="spacingAndGlyphs" font-style="italic" font-size="8.8">c</text>
<text x="108.6" y="218.4" textLength="40.2" lengthAdjust="spacingAndGlyphs">(3 GeV)</text>
<text x="153.3" y="218.4" textLength="8.6" lengthAdjust="spacingAndGlyphs">=</text>
<text x="165.8" y="218.4" textLength="26.1" lengthAdjust="spacingAndGlyphs">0.993</text>
<text x="197.4" y="218.4" textLength="21.1" lengthAdjust="spacingAndGlyphs">GeV</text>
<text x="222.8" y="351.6" font-style="italic">q</text>
<text x="228.7" y="347.4" font-size="8.4">2</text>
<text x="228.4" y="355.4" textLength="11.7" lengthAdjust="spacingAndGlyphs" font-size="9">cut</text>
<path d="M255.5,342.7H253.3V354.3H255.5M282.5,342.7H284.7V354.3H282.5" stroke="#111" stroke-width="0.7" fill="none"/>
<text x="255.8" y="351.8" textLength="22.2" lengthAdjust="spacingAndGlyphs">GeV</text>
<text x="278.7" y="347.2" font-size="8.2">2</text>
<text transform="translate(37.7,308.5) rotate(-90)" font-size="13" textLength="70.8" lengthAdjust="spacingAndGlyphs">Ratio to NLO</text>
<g transform="translate(47.7,175.6) rotate(-90)">
<path d="M5.9,-14.5L0.4,-3.5L5.9,7.4" fill="none" stroke="#111" stroke-width="0.7"/>
<text x="7.8" y="0.3" font-size="13.4">(</text>
<text x="13.0" y="0" font-style="italic" font-size="13">q</text>
<text x="19.0" y="-5.6" font-size="8.2">2</text>
<path d="M25.7,-2.9H33.0" stroke="#111" stroke-width="0.7" fill="none"/>
<path d="M39.2,-9.4L36.3,-3.0L39.2,3.4M50.9,-9.4L53.8,-3.0L50.9,3.4" stroke="#111" stroke-width="0.7" fill="none"/>
<text x="39.5" y="0" font-style="italic" font-size="13">q</text>
<text x="45.8" y="-5.6" font-size="8.2">2</text>
<text x="55.4" y="0.3" font-size="13.4">)</text>
<text x="60.3" y="-5.6" font-size="8.2">3</text>
<path d="M67.2,-14.5L72.7,-3.5L67.2,7.4" fill="none" stroke="#111" stroke-width="0.7"/>
<path d="M88.9,-9.9H86.6V2.1H88.9M115.1,-9.9H117.4V2.1H115.1" stroke="#111" stroke-width="0.7" fill="none"/>
<text x="87.7" y="-0.7" textLength="22.0" lengthAdjust="spacingAndGlyphs" font-size="13.0">GeV</text>
<text x="110.8" y="-5.2" font-size="8.2">6</text>
</g>
</g>
</svg>
</body></html>
